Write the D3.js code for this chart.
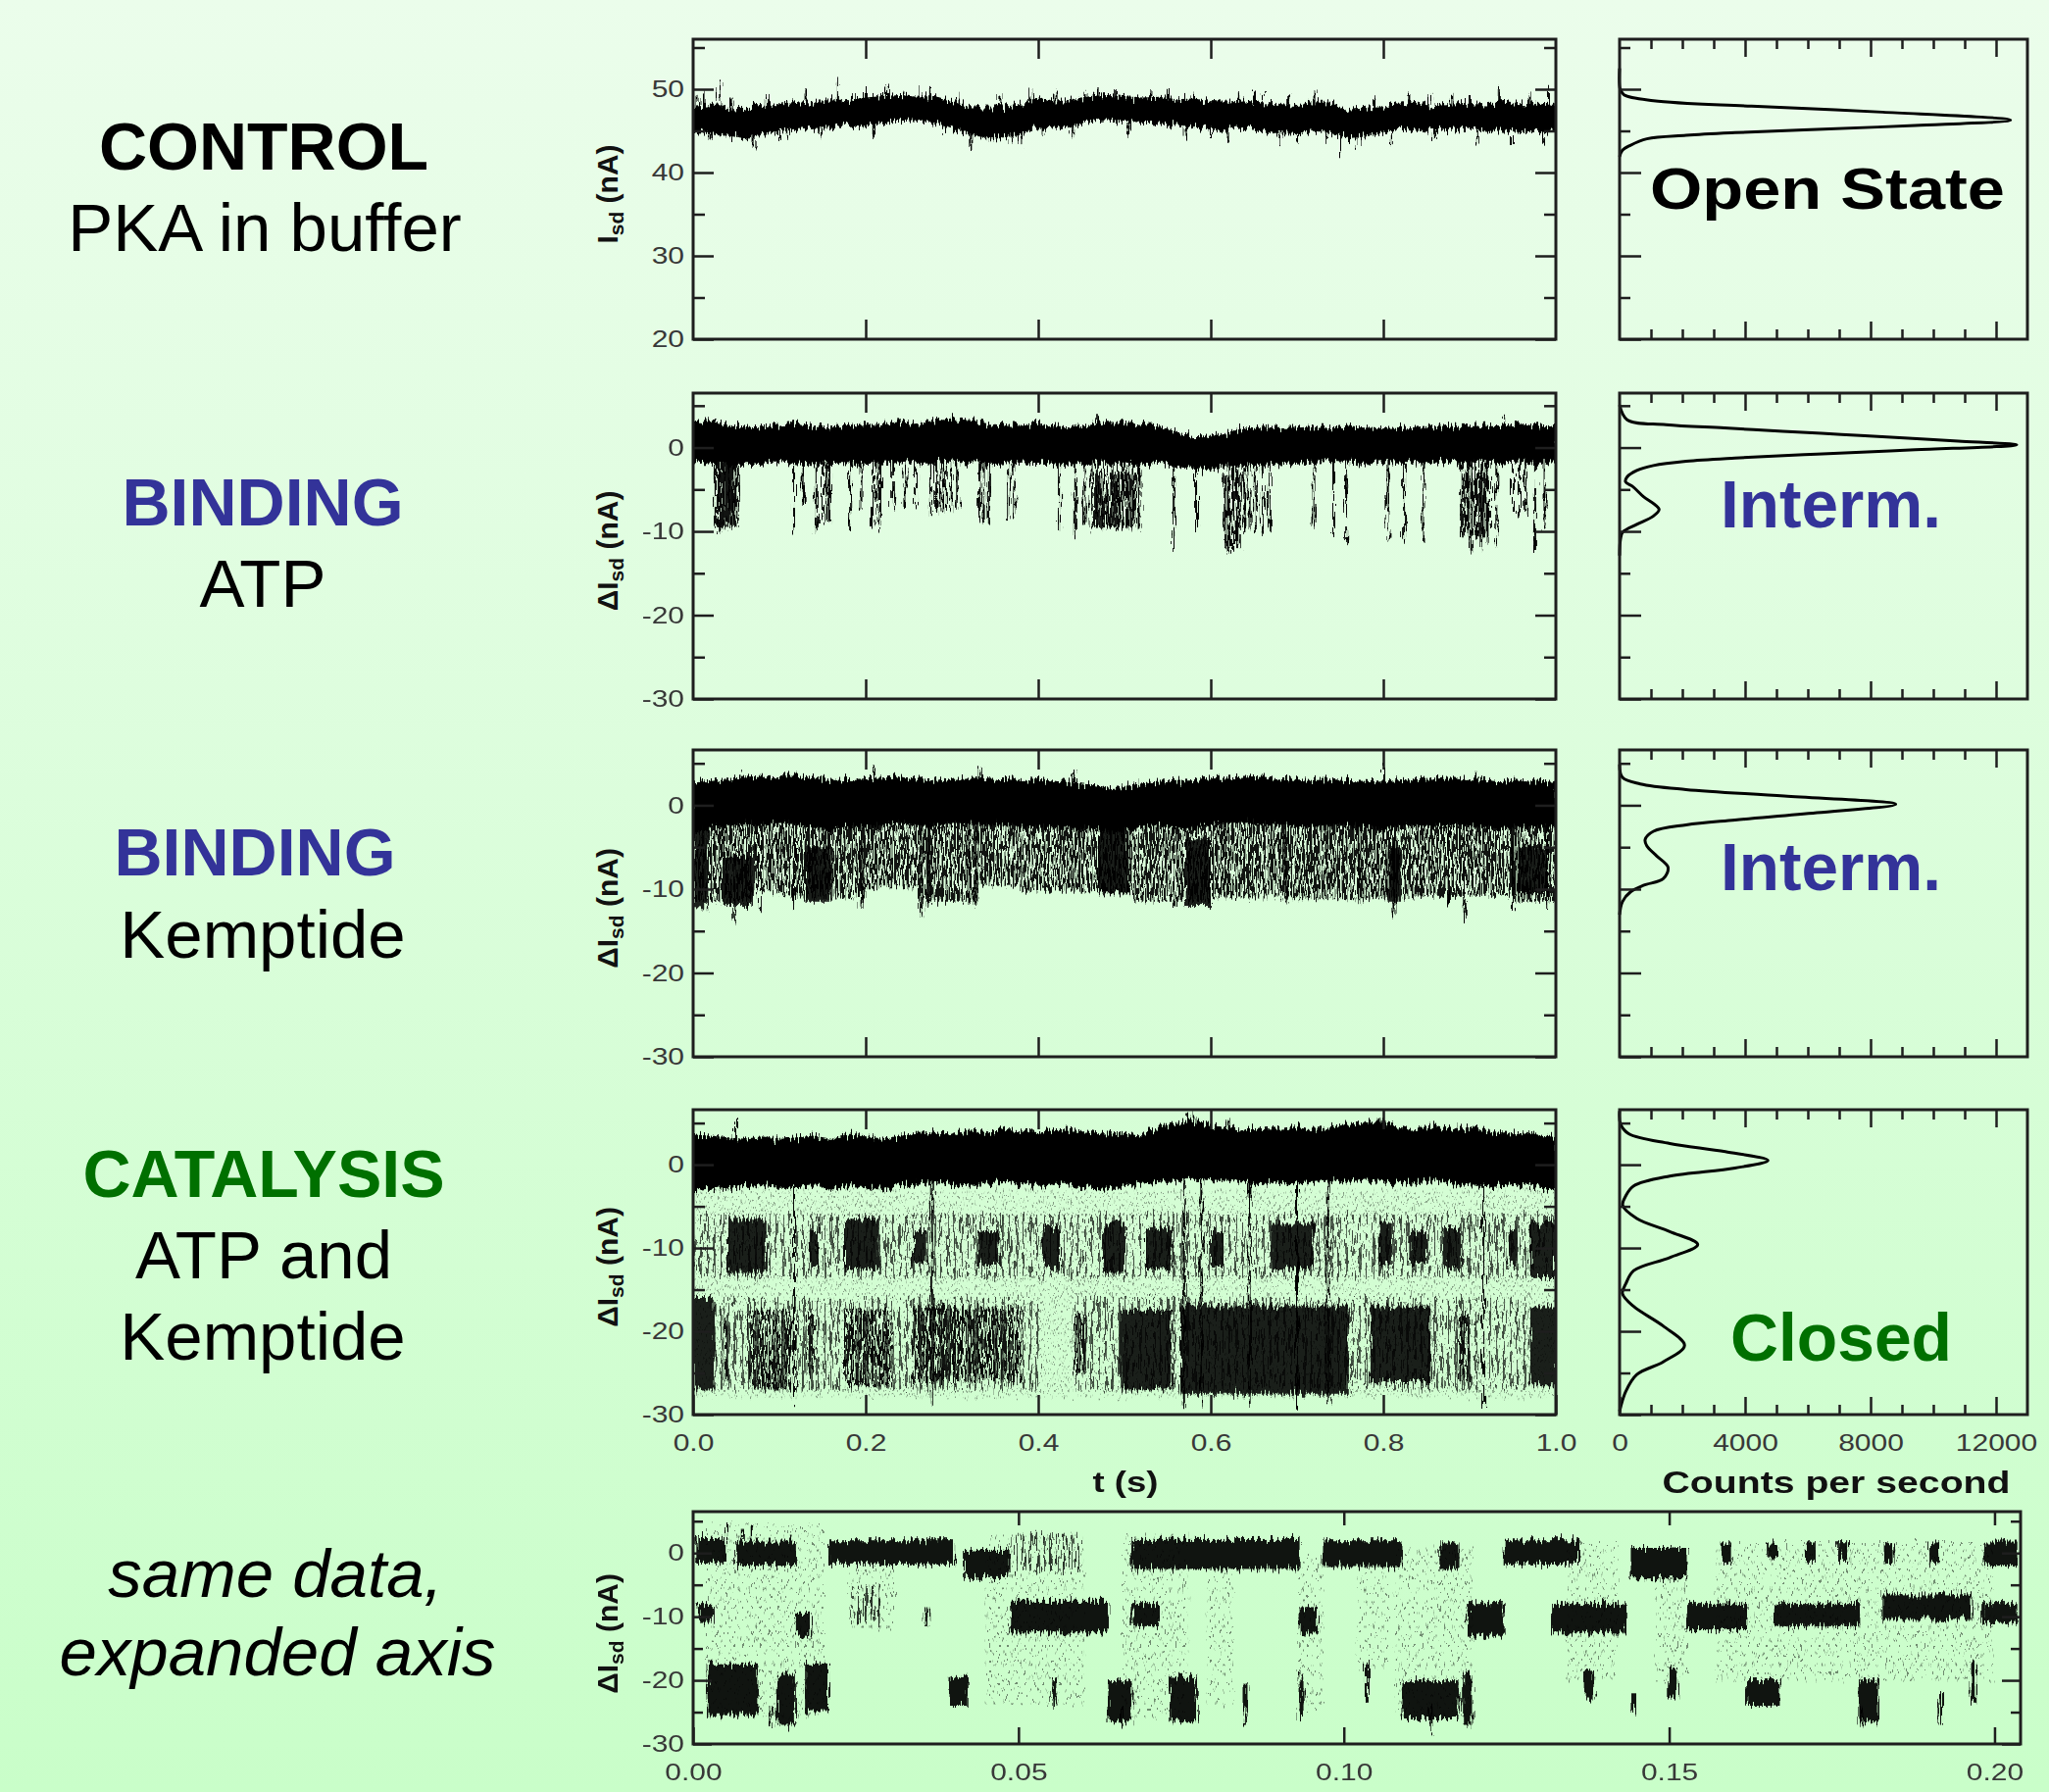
<!DOCTYPE html>
<html>
<head>
<meta charset="utf-8">
<script src="https://cdn.jsdelivr.net/npm/d3@7"></script>
<style>
  body { margin: 0; background: #e0fde0; }
  svg text { font-family: "Liberation Sans", Arial, Helvetica, sans-serif; }
</style>
</head>
<body>
<svg id="fig" width="2090" height="1828"></svg>
<script>

// ---------- DATA ----------

// envelope sampling grid, seconds
var gridT = [0,0.02,0.04,0.06,0.08,0.1,0.12,0.14,0.16,0.18,0.2,0.22,0.24,0.26,0.28,0.3,0.32,0.34,0.36,0.38,0.4,0.42,0.44,0.46,0.48,0.5,0.52,0.54,0.56,0.58,0.6,0.62,0.64,0.66,0.68,0.7,0.72,0.74,0.76,0.78,0.8,0.82,0.84,0.86,0.88,0.9,0.92,0.94,0.96,0.98,1]

// CONTROL: Isd band (nA)
var ctrlHi = [47.8,48.0,47.6,47.7,48.0,48.3,48.5,48.3,48.7,48.6,48.9,49.1,49.2,49.0,49.1,48.5,47.9,47.7,47.8,48.1,48.9,48.4,48.7,49.1,49.2,49.1,48.9,49.0,48.7,48.8,48.5,48.4,48.6,48.2,48.3,48.0,48.5,48.3,47.5,47.6,47.8,48.2,48.3,48.0,48.2,48.3,48.1,48.4,48.1,48.3,48.0]
var ctrlLo = [44.9,44.8,44.5,44.2,44.6,45.2,45.3,45.4,45.5,45.8,45.7,46.1,46.3,46.4,45.9,45.3,44.6,44.3,44.3,44.6,45.5,45.3,45.7,46.2,46.4,46.1,46.0,45.9,45.8,45.6,45.3,45.2,45.4,45.0,44.8,44.7,45.1,44.8,44.2,44.4,44.9,45.3,45.2,45.0,45.2,45.3,45.1,45.1,44.9,44.9,45.0]
var ctrlSpikes = [[0.004,49.2],[0.012,49.6],[0.02,43.6],[0.03,50.9],[0.045,49.0],[0.058,43.8],[0.07,43.0],[0.085,49.3],[0.1,44.0],[0.11,43.9],[0.13,49.6],[0.148,44.3],[0.168,51.0],[0.185,49.7],[0.2,50.0],[0.21,44.2],[0.226,50.3],[0.245,49.8],[0.262,50.0],[0.276,50.0],[0.29,44.6],[0.305,49.1],[0.322,42.8],[0.34,43.6],[0.355,49.4],[0.37,43.3],[0.38,43.4],[0.39,50.3],[0.405,44.4],[0.42,49.7],[0.44,44.2],[0.455,49.8],[0.47,50.0],[0.49,50.0],[0.505,44.6],[0.53,49.7],[0.55,49.8],[0.57,44.4],[0.58,49.6],[0.6,44.0],[0.62,43.9],[0.632,49.4],[0.65,49.6],[0.66,49.3],[0.68,43.4],[0.69,49.5],[0.7,43.6],[0.72,49.6],[0.735,43.8],[0.75,42.2],[0.77,43.2],[0.79,48.8],[0.81,43.4],[0.83,49.3],[0.855,49.2],[0.86,44.0],[0.88,49.2],[0.9,49.3],[0.91,43.7],[0.935,50.4],[0.95,43.3],[0.97,49.6],[0.985,43.1],[0.992,50.5]]

// BINDING ATP: dIsd
var atpHi = [2.8,3.2,2.6,2.5,2.4,2.6,2.8,2.5,2.4,2.6,2.9,2.8,3.0,2.7,3.1,3.3,3.2,2.8,2.6,2.6,2.8,2.5,2.4,2.6,3.0,2.9,2.7,2.5,1.8,1.4,1.3,1.7,2.3,2.4,2.2,2.3,2.4,2.3,2.5,2.4,2.3,2.2,2.4,2.3,2.5,2.4,2.6,2.5,2.8,2.5,2.6]
var atpLo = [-1.6,-1.8,-2.2,-2.0,-1.8,-1.6,-1.9,-2.0,-1.8,-1.9,-1.7,-1.8,-1.6,-1.9,-1.7,-1.5,-1.8,-2.0,-1.9,-1.8,-1.7,-2.0,-1.9,-1.8,-1.6,-1.9,-2.0,-1.8,-2.2,-2.4,-2.6,-2.3,-2.0,-1.9,-2.0,-1.8,-1.7,-1.6,-1.7,-1.8,-1.6,-1.7,-1.8,-1.7,-1.6,-1.8,-1.7,-1.9,-1.6,-1.7,-1.8]
var atpSpikes = [[0.026,-9.6],[0.031,-10.1],[0.036,-9.8],[0.041,-9.0],[0.046,-9.5],[0.052,-8.4],[0.117,-9.7],[0.128,-6.6],[0.143,-10.1],[0.150,-9.0],[0.155,-8.8],[0.158,-9.0],[0.182,-10.1],[0.195,-7.4],[0.208,-9.7],[0.213,-9.0],[0.217,-9.7],[0.232,-7.0],[0.246,-7.2],[0.258,-7.0],[0.276,-7.8],[0.282,-8.0],[0.288,-7.6],[0.293,-8.0],[0.298,-7.8],[0.306,-7.4],[0.332,-9.1],[0.337,-8.8],[0.343,-9.0],[0.365,-8.6],[0.372,-8.4],[0.424,-10.1],[0.443,-10.7],[0.454,-9.0],[0.462,-9.7],[0.468,-9.6],[0.474,-9.8],[0.480,-9.7],[0.486,-9.4],[0.492,-9.8],[0.498,-9.6],[0.504,-9.7],[0.51,-9.2],[0.516,-9.7],[0.557,-12.1],[0.583,-10.1],[0.62,-12.8],[0.625,-12.2],[0.631,-11.5],[0.639,-10.3],[0.645,-9.8],[0.652,-10.0],[0.66,-10.3],[0.668,-9.9],[0.72,-9.5],[0.742,-10.1],[0.757,-11.3],[0.805,-11.0],[0.824,-10.9],[0.846,-11.0],[0.89,-10.5],[0.898,-10.2],[0.902,-12.4],[0.908,-11.0],[0.914,-12.0],[0.92,-11.5],[0.931,-11.9],[0.95,-8.0],[0.958,-8.3],[0.965,-7.9],[0.976,-12.1],[0.987,-9.7],[0.028,3.6],[0.3,4.0],[0.468,3.9],[0.94,3.6]]
var atpStreaks = [[0.026,0.052,-9.5,-2],[0.462,0.52,-9.5,-3],[0.615,0.635,-12,-3],[0.89,0.925,-10.5,-3]]

// BINDING Kemptide: dIsd
var kemHi = [2.6,2.8,3.0,3.3,3.4,3.6,3.5,3.2,2.9,3.0,3.1,3.2,3.3,3.1,2.8,3.0,3.2,3.1,3.0,2.9,3.0,2.8,2.6,2.4,2.0,2.2,2.5,2.7,2.8,2.9,3.1,3.2,3.3,3.4,3.2,3.0,2.9,3.0,2.9,2.8,2.7,2.9,3.0,3.1,3.2,3.0,2.9,2.7,2.9,2.8,2.7]
var kemLo = [-3.5,-2.5,-2.4,-2.2,-2.3,-2.0,-2.2,-2.6,-2.8,-2.4,-2.6,-2.2,-2.0,-2.3,-2.5,-2.0,-2.1,-2.4,-2.2,-2.5,-2.6,-2.4,-2.7,-2.8,-3.0,-3.0,-2.6,-2.4,-2.7,-2.6,-2.2,-2.0,-2.0,-2.2,-2.3,-2.4,-2.5,-2.2,-2.3,-2.6,-2.8,-2.4,-2.3,-2.5,-2.2,-2.4,-2.6,-2.7,-2.5,-2.6,-2.4]
var kemStreaks = [[0,0.07,-11.5,-2],[0.07,0.11,-10.5,-2],[0.11,0.2,-11,-2],[0.2,0.26,-9.8,-2],[0.26,0.33,-11.5,-2],[0.33,0.38,-9.5,-2],[0.38,0.46,-10.2,-2],[0.46,0.51,-10.5,-2],[0.51,0.6,-11.5,-2],[0.6,0.69,-11,-2],[0.69,0.79,-11.2,-2],[0.79,0.85,-11,-2],[0.85,0.95,-10.8,-2],[0.95,1,-11.5,-2]]
var kemSolid = [[0,0.015,-12.5,-2.5],[0.035,0.07,-12,-6],[0.13,0.16,-11.5,-5],[0.47,0.505,-10.5,-3],[0.57,0.6,-12,-4],[0.805,0.82,-11.5,-5],[0.955,0.99,-10.5,-5]]
var kemSpikes = [[0.048,-13.8],[0.076,-12.6],[0.117,-12],[0.195,-12.2],[0.265,-13.2],[0.273,-12.2],[0.32,-12],[0.328,-12],[0.557,-12.2],[0.687,-11.7],[0.772,-11.9],[0.813,-13.2],[0.876,-11.7],[0.894,-14.2],[0.95,-12.6],[0.99,-12],[0.055,4.0],[0.21,4.8],[0.33,4.7],[0.335,4.5],[0.44,4.2],[0.8,4.5],[0.91,4.0]]

// CATALYSIS: dIsd
var catHi = [3.5,3.4,3.2,3.0,3.3,3.0,3.2,3.4,3.0,3.5,3.3,3.0,3.4,3.6,3.8,3.6,4.0,3.7,4.2,4.0,3.8,4.2,4.0,3.8,3.5,3.6,3.4,4.4,5.0,5.3,4.6,4.4,4.2,4.4,4.3,4.5,4.2,4.4,4.6,5.0,5.2,4.4,4.0,4.6,4.3,4.4,4.0,3.6,3.8,3.5,3.2]
var catLo = [-3.0,-2.8,-3.0,-2.6,-2.5,-2.7,-2.6,-2.4,-2.8,-2.5,-2.6,-2.8,-2.4,-2.2,-2.0,-2.3,-2.5,-2.2,-2.0,-2.4,-2.6,-2.2,-2.5,-2.7,-2.8,-2.4,-2.2,-2.0,-1.8,-1.6,-1.8,-2.0,-2.2,-2.4,-2.0,-2.2,-2.0,-1.8,-2.0,-1.7,-1.9,-2.2,-2.0,-1.8,-2.2,-2.4,-2.5,-2.6,-2.4,-2.8,-3.0]
var catSolid = [[0.04,0.085,-13,-6.5],[0.135,0.145,-12,-8],[0.175,0.215,-12.5,-6.5],[0.255,0.27,-12,-8],[0.33,0.355,-12,-8],[0.405,0.425,-12.5,-7.5],[0.475,0.5,-13,-7],[0.525,0.555,-12.5,-7.5],[0.6,0.615,-12,-8],[0.67,0.72,-12.5,-7],[0.795,0.81,-12,-7],[0.83,0.85,-12,-8],[0.87,0.89,-12.5,-7.5],[0.945,0.955,-12,-8],[0.97,1,-13.5,-7],
                [0,0.025,-27,-16],[0.495,0.555,-27,-17.5],[0.565,0.76,-27.5,-17],[0.785,0.855,-26,-17],[0.97,1,-26.5,-17]]
var catStreaks = [[0.035,0.04,-26,-18],[0.065,0.115,-27,-17.5],[0.13,0.14,-25,-18],[0.175,0.23,-26.5,-17.5],[0.255,0.38,-26,-17],[0.44,0.455,-25,-18],[0.885,0.9,-26,-18]]
var catThin = [[0,1,-13.5,-6],[0.025,0.4,-27,-16],[0.44,0.97,-27,-16]]
var catDots = [[0,1,-28,-3]]
var catSpikes = [[0.117,-29.2],[0.277,-28.8],[0.569,-29.2],[0.589,-29],[0.645,-29],[0.70,-29.5],[0.736,-28.5],[0.916,-29.4],[0.573,6.3],[0.58,6.0],[0.796,5.6],[0.62,5.5],[0.05,5.4]]

// same data, expanded axis (0 - 0.2 s)
var expSolid = [[0.0005,0.005,-1.5,2.5],[0.0065,0.0158,-2,1.8],[0.0208,0.0401,-1.8,2],[0.0416,0.0487,-3.8,0.5],[0.0674,0.0932,-2.5,2.2],[0.0968,0.109,-2.2,2],[0.1147,0.1176,-2.5,1.5],[0.1247,0.1362,-1.8,2],[0.1441,0.1527,-4,0.8],[0.1985,0.2035,-2,1.8],
                [0.158,0.1595,-1.5,1.5],[0.165,0.1665,-1,1.5],[0.171,0.1725,-1.5,1.5],[0.176,0.1775,-1.5,2],[0.183,0.1845,-1.5,1.5],[0.19,0.1915,-1.5,1.5],
                [0.0007,0.003,-11,-8],[0.0158,0.018,-13,-9.5],[0.0355,0.0362,-11.5,-8.5],[0.0487,0.0638,-12.5,-7.5],[0.0674,0.0717,-11.5,-8],[0.0932,0.096,-12.5,-8.5],[0.119,0.1247,-13,-8],[0.132,0.1434,-12.5,-8],[0.1527,0.162,-12,-8],[0.1663,0.1792,-11.5,-8],[0.1828,0.1964,-10.5,-6.5],[0.198,0.2035,-11,-8],
                [0.0022,0.01,-25.5,-17.5],[0.0129,0.0158,-27,-19],[0.0172,0.0208,-25,-17.5],[0.0394,0.0423,-24,-19.5],[0.0552,0.0558,-24,-20],[0.0638,0.0674,-26.5,-20],[0.0731,0.0774,-26.5,-19.5],[0.0846,0.0852,-26,-20.5],[0.0932,0.0938,-26,-19],[0.1032,0.1038,-23.5,-17.5],[0.109,0.1176,-26,-20],[0.1183,0.1197,-27,-19],[0.1369,0.1384,-23,-18.5],[0.1441,0.1448,-25,-22.5],[0.1498,0.1513,-23,-18],[0.162,0.167,-24,-20],[0.1792,0.1821,-26.5,-20],[0.1914,0.1921,-27,-22],[0.1964,0.1971,-23.5,-17]]
var expStreaks = [[0.0487,0.0595,-3,3],[0.0244,0.0287,-11,-5]]
var expDots = [[0.002,0.02,-26,4.5],[0.024,0.031,-12,-2],[0.045,0.06,-24,3],[0.066,0.076,-26,3],[0.079,0.083,-24,-2],[0.093,0.097,-25,0],[0.102,0.107,-18,-3],[0.108,0.12,-26,1],[0.134,0.142,-20,2],[0.148,0.153,-20,-3],[0.157,0.2,-20,2]]
var expSpikes = [[0.005,2,4.5],[0.0075,2,3.8],[0.009,2,4.4],[0.012,-24,-27.5],[0.1135,-24,-28.6],[0.066,-24,-27],[0.0848,-24,-27],[0.1795,-24,-27.5]]

// histograms: [current nA, counts per second]
var hist1 = [[52.5,0],[50.0,20],[49.33,140],[48.63,1080],[47.96,4210],[47.25,8380],[46.3,12460],[45.65,9420],[45.18,6290],[44.79,3680],[44.47,2120],[44.04,870],[43.26,340],[42.67,90],[41.9,0]]
var hist2 = [[5.07,0],[3.32,240],[2.73,1480],[2.34,3340],[1.95,5210],[1.57,7070],[1.17,8930],[0.78,10800],[0.32,12660],[-0.27,9420],[-0.78,6290],[-1.24,3680],[-1.63,2120],[-2.14,1080],[-2.73,550],[-3.5,240],[-4.1,190],[-4.68,430],[-5.85,760],[-6.82,1130],[-7.4,1260],[-8.2,1070],[-9.16,550],[-10.1,100],[-10.9,30],[-12.9,0]]
var hist3 = [[4.88,0],[3.32,90],[2.54,660],[1.87,2120],[1.09,5250],[0.12,8800],[-0.89,6290],[-1.75,3680],[-2.34,2120],[-3.11,1080],[-4.09,815],[-4.87,870],[-6.04,1180],[-7.4,1545],[-8.77,1390],[-9.55,760],[-10.33,350],[-11.5,90],[-13.05,0]]
var hist4 = [[6.45,0],[4.88,30],[3.71,290],[2.54,1600],[1.56,3370],[0.5,4730],[-0.4,3680],[-1.37,1600],[-2.55,450],[-3.72,200],[-4.9,100],[-6.46,550],[-8.03,1600],[-9.59,2490],[-11.15,1600],[-12.72,450],[-14.28,200],[-15.46,90],[-17.02,450],[-19.37,1390],[-21.7,2070],[-23.67,1390],[-25.2,550],[-27.2,200],[-29.6,0]]

// axis ticks / labels
var timeTicks = [0, 0.2, 0.4, 0.6, 0.8, 1.0]
var expTicks = [0, 0.05, 0.10, 0.15, 0.20]
var countMajor = [0, 4000, 8000, 12000]
var countMinor = [1000, 2000, 3000, 5000, 6000, 7000, 9000, 10000, 11000]
var ctrlMajor = [20, 30, 40, 50], ctrlMinor = [25, 35, 45, 55]
var dMajor = [-30, -20, -10, 0], dMinor = [-25, -15, -5, 5]
var yDomains = [[20, 56], [-30, 6.5], [-30, 6.6], [-30, 6.6]]

var condTitles = ["CONTROL", "BINDING", "BINDING", "CATALYSIS"]
var condLines = [["PKA in buffer"], ["ATP"], ["Kemptide"], ["ATP and", "Kemptide"]]
var stateNames = ["Open State", "Interm.", "Interm.", "Closed"]
var noteLines = ["same data,", "expanded axis"]

// ---------- LAYOUT ----------
var FONT = '"Liberation Sans", Arial, Helvetica, sans-serif'
var BLUE = "#333399", GREEN = "#007000"
var rowBox = [{top:40,bottom:346},{top:401,bottom:713},{top:765,bottom:1078},{top:1132,bottom:1443}]

var svg = d3.select("#fig")
var defs = svg.append("defs")

var grad = defs.append("linearGradient").attr("id","bg").attr("x1",0).attr("y1",0).attr("x2",0).attr("y2",1)
grad.append("stop").attr("offset","0%").attr("stop-color","#ebfdeb")
grad.append("stop").attr("offset","100%").attr("stop-color","#c9fec9")
svg.append("rect").attr("width",2090).attr("height",1828).attr("fill","url(#bg)")

// fills: streaks, thin streaks, scattered dots
var hatch = defs.append("pattern").attr("id","hatch").attr("patternUnits","userSpaceOnUse").attr("width",4).attr("height",6)
hatch.append("rect").attr("width",2.4).attr("height",6).attr("fill","#000")
var thin = defs.append("pattern").attr("id","thin").attr("patternUnits","userSpaceOnUse").attr("width",7).attr("height",6)
thin.append("rect").attr("width",1.8).attr("height",6).attr("fill","#000")
var dots = defs.append("pattern").attr("id","dots").attr("patternUnits","userSpaceOnUse").attr("width",7).attr("height",9)
dots.append("rect").attr("x",0.5).attr("y",0.5).attr("width",1.8).attr("height",1.8).attr("fill","#000")
dots.append("rect").attr("x",4).attr("y",5).attr("width",1.8).attr("height",1.8).attr("fill","#000")
var sparse = defs.append("pattern").attr("id","sparse").attr("patternUnits","userSpaceOnUse").attr("width",9).attr("height",13)
sparse.append("rect").attr("x",1).attr("y",1).attr("width",2).attr("height",2).attr("fill","#000")
sparse.append("rect").attr("x",5.5).attr("y",7.5).attr("width",2).attr("height",2).attr("fill","#000")

// rough edge look for the digitised traces: strong vertical, light horizontal jitter
var rough = defs.append("filter").attr("id","rough").attr("x","-2%").attr("y","-6%").attr("width","104%").attr("height","112%")
  .attr("color-interpolation-filters","sRGB")
rough.append("feTurbulence").attr("type","fractalNoise").attr("baseFrequency","0.5 0.05").attr("numOctaves",2).attr("seed",7).attr("result","n")
rough.append("feColorMatrix").attr("in","n").attr("type","matrix")
  .attr("values","0.6 0 0 0 0.2  0 1 0 0 0  0 0 0 0 0  0 0 0 0 1").attr("result","m")
rough.append("feDisplacementMap").attr("in","SourceGraphic").attr("in2","m").attr("scale",18)
  .attr("xChannelSelector","R").attr("yChannelSelector","G")

var tX = d3.scaleLinear().domain([0,1]).range([707,1587])
var hX = d3.scaleLinear().domain([0,13000]).range([1652,2068])
var eX = d3.scaleLinear().domain([0,0.204]).range([707,2061])

function widen(sel, k) {
  sel.each(function() {
    var w = this.getComputedTextLength()
    if (w > 0) d3.select(this).attr("textLength", w * k).attr("lengthAdjust", "spacingAndGlyphs")
  })
}

function styleAxis(a) {
  a.select(".domain").remove()
  a.attr("font-size", 24).attr("font-family", FONT)
  a.selectAll("line").attr("stroke", "#1e1e1e").attr("stroke-width", 2.5)
  a.selectAll("text").attr("fill", "#383838")
}

function ticksY(g, y, xPos, vals, len, side, labeled) {
  var ax = side == "left" ? d3.axisLeft(y) : d3.axisRight(y)
  var a = g.append("g").attr("transform", "translate(" + xPos + ",0)")
    .call(ax.tickValues(vals).tickSize(-len).tickPadding(9)
      .tickFormat(labeled ? function(d){ return String(d) } : function(){ return "" }))
  styleAxis(a)
  if (labeled) widen(a.selectAll("text"), 1.25)
}

function ticksX(g, x, yPos, vals, len, side, fmt, pad) {
  var ax = side == "bottom" ? d3.axisBottom(x) : d3.axisTop(x)
  var a = g.append("g").attr("transform", "translate(0," + yPos + ")")
    .call(ax.tickValues(vals).tickSize(-len).tickPadding(pad || 8)
      .tickFormat(fmt || function(){ return "" }))
  styleAxis(a)
  if (fmt) widen(a.selectAll("text"), 1.25)
}

function frame(g, x0, x1, y0, y1) {
  g.append("rect").attr("x", x0).attr("y", y0).attr("width", x1 - x0).attr("height", y1 - y0)
    .attr("fill", "none").attr("stroke", "#1e1e1e").attr("stroke-width", 3)
}

function midAt(t, hi, lo) {
  var i = Math.min(gridT.length - 2, Math.max(0, d3.bisectRight(gridT, t) - 1))
  var f = (t - gridT[i]) / (gridT[i+1] - gridT[i])
  return ((hi[i] + lo[i]) * (1 - f) + (hi[i+1] + lo[i+1]) * f) / 2
}

function blocks(g, x, y, list, fill, op) {
  g.selectAll(null).data(list).enter().append("rect")
    .attr("x", function(d){ return x(d[0]) })
    .attr("width", function(d){ return Math.max(1.5, x(d[1]) - x(d[0])) })
    .attr("y", function(d){ return y(d[3]) })
    .attr("height", function(d){ return y(d[2]) - y(d[3]) })
    .attr("fill", fill).attr("opacity", op)
}

function yLabel(cy, delta) {
  var t = svg.append("text").attr("transform", "translate(630," + cy + ") rotate(-90)")
    .attr("text-anchor", "middle").attr("font-weight", "bold").attr("font-size", 30).attr("fill", "#111")
  t.append("tspan").text(delta ? "\u0394I" : "I")
  t.append("tspan").attr("font-size", 21).attr("dy", 6).text("sd")
  t.append("tspan").attr("dy", -6).text(" (nA)")
}

// ---------- TIME TRACES + HISTOGRAMS ----------
var rowData = [
  {hi: ctrlHi, lo: ctrlLo, spikes: ctrlSpikes, solid: [], streaks: [], thin: [], dots: [], hist: hist1, major: ctrlMajor, minor: ctrlMinor},
  {hi: atpHi, lo: atpLo, spikes: atpSpikes, solid: [], streaks: atpStreaks, thin: [], dots: [], hist: hist2, major: dMajor, minor: dMinor},
  {hi: kemHi, lo: kemLo, spikes: kemSpikes, solid: kemSolid, streaks: kemStreaks, thin: [], dots: [], hist: hist3, major: dMajor, minor: dMinor},
  {hi: catHi, lo: catLo, spikes: catSpikes, solid: catSolid, streaks: catStreaks, thin: catThin, dots: catDots, hist: hist4, major: dMajor, minor: dMinor}
]

rowData.forEach(function(r, i) {
  var box = rowBox[i]
  var y = d3.scaleLinear().domain(yDomains[i]).range([box.bottom, box.top])
  var g = svg.append("g")

  defs.append("clipPath").attr("id", "clip" + i).append("rect")
    .attr("x", tX(0)).attr("y", box.top).attr("width", tX(1) - tX(0)).attr("height", box.bottom - box.top)
  var plot = g.append("g").attr("clip-path", "url(#clip" + i + ")")
    .append("g").attr("filter", "url(#rough)")

  blocks(plot, tX, y, r.dots, "url(#dots)", 0.38)
  blocks(plot, tX, y, r.thin, "url(#thin)", 0.7)
  blocks(plot, tX, y, r.streaks, "url(#hatch)", 0.92)
  blocks(plot, tX, y, r.solid, "#000", 0.88)

  plot.selectAll(null).data(r.spikes).enter().append("line")
    .attr("x1", function(d){ return tX(d[0]) }).attr("x2", function(d){ return tX(d[0]) })
    .attr("y1", function(d){ return y(midAt(d[0], r.hi, r.lo)) })
    .attr("y2", function(d){ return y(d[1]) })
    .attr("stroke", "#000").attr("stroke-width", 2)

  var band = d3.area()
    .x(function(d, k){ return tX(gridT[k]) })
    .y0(function(d, k){ return y(r.lo[k]) })
    .y1(function(d){ return y(d) })
  plot.append("path").datum(r.hi).attr("d", band)
    .attr("fill", "#000").attr("stroke", "#000").attr("stroke-width", 1.5)

  frame(g, tX(0), tX(1), box.top, box.bottom)
  ticksY(g, y, tX(0), r.major, 21, "left", true)
  ticksY(g, y, tX(0), r.minor, 12, "left", false)
  ticksY(g, y, tX(1), r.major, 21, "right", false)
  ticksY(g, y, tX(1), r.minor, 12, "right", false)
  var inner = timeTicks.slice(1, -1)
  ticksX(g, tX, box.top, inner, 20, "top")
  if (i == 3) {
    ticksX(g, tX, box.bottom, timeTicks, 20, "bottom", d3.format(".1f"), 20)
  } else {
    ticksX(g, tX, box.bottom, inner, 20, "bottom")
  }
  yLabel((box.top + box.bottom) / 2 + 5, i > 0)

  // histogram
  var hg = svg.append("g")
  var curve = d3.line()
    .x(function(d){ return hX(d[1]) })
    .y(function(d){ return y(d[0]) })
    .curve(d3.curveCatmullRom.alpha(0.5))
  hg.append("path").datum(r.hist).attr("d", curve)
    .attr("fill", "none").attr("stroke", "#000").attr("stroke-width", 3)
  frame(hg, hX(0), hX(13000), box.top, box.bottom)
  ticksY(hg, y, hX(0), r.major, 22, "left", false)
  ticksY(hg, y, hX(0), r.minor, 11, "left", false)
  ticksX(hg, hX, box.top, countMajor.slice(1), 18, "top")
  ticksX(hg, hX, box.top, countMinor, 10, "top")
  ticksX(hg, hX, box.bottom, countMinor, 10, "bottom")
  if (i == 3) {
    ticksX(hg, hX, box.bottom, countMajor, 18, "bottom", function(d){ return String(d) }, 20)
  } else {
    ticksX(hg, hX, box.bottom, countMajor.slice(1), 18, "bottom")
  }
})

// ---------- EXPANDED PANEL ----------
;(function() {
  var top = 1542, bottom = 1779
  var y = d3.scaleLinear().domain([-30, 6.5]).range([bottom, top])
  var g = svg.append("g")
  defs.append("clipPath").attr("id", "clipE").append("rect")
    .attr("x", eX(0)).attr("y", top).attr("width", eX(0.204) - eX(0)).attr("height", bottom - top)
  var plot = g.append("g").attr("clip-path", "url(#clipE)")
    .append("g").attr("filter", "url(#rough)")
  blocks(plot, eX, y, expDots, "url(#sparse)", 0.45)
  blocks(plot, eX, y, expStreaks, "url(#thin)", 0.8)
  blocks(plot, eX, y, expSolid, "#000", 0.92)
  plot.selectAll(null).data(expSpikes).enter().append("line")
    .attr("x1", function(d){ return eX(d[0]) }).attr("x2", function(d){ return eX(d[0]) })
    .attr("y1", function(d){ return y(d[1]) }).attr("y2", function(d){ return y(d[2]) })
    .attr("stroke", "#000").attr("stroke-width", 2)

  frame(g, eX(0), eX(0.204), top, bottom)
  ticksY(g, y, eX(0), dMajor, 19, "left", true)
  ticksY(g, y, eX(0), dMinor, 10, "left", false)
  ticksY(g, y, eX(0.204), dMajor, 19, "right", false)
  ticksY(g, y, eX(0.204), dMinor, 10, "right", false)
  ticksX(g, eX, top, expTicks.slice(1), 14, "top")
  ticksX(g, eX, bottom, expTicks, 17, "bottom", d3.format(".2f"), 20)
  yLabel((top + bottom) / 2 + 6, true)
})()

// axis titles
svg.append("text").attr("x", 1148).attr("y", 1522).attr("text-anchor", "middle")
  .attr("font-weight", "bold").attr("font-size", 30).attr("fill", "#111")
  .attr("textLength", 67).attr("lengthAdjust", "spacingAndGlyphs").text("t (s)")
svg.append("text").attr("x", 1873).attr("y", 1523).attr("text-anchor", "middle")
  .attr("font-weight", "bold").attr("font-size", 32).attr("fill", "#111")
  .attr("textLength", 355).attr("lengthAdjust", "spacingAndGlyphs").text("Counts per second")

// state labels inside histograms
var stateSpec = [
  {x: 1683, y: 213, size: 60, len: 362, color: "#000"},
  {x: 1755, y: 538, size: 68, len: 225, color: BLUE},
  {x: 1755, y: 908, size: 68, len: 225, color: BLUE},
  {x: 1765, y: 1388, size: 68, len: 226, color: GREEN}
]
stateNames.forEach(function(s, i) {
  var p = stateSpec[i]
  svg.append("text").attr("x", p.x).attr("y", p.y).attr("font-weight", "bold")
    .attr("font-size", p.size).attr("fill", p.color)
    .attr("textLength", p.len).attr("lengthAdjust", "spacingAndGlyphs").text(s)
})

// left-hand condition labels
var titleSpec = [{x: 269, y: 173, color: "#000"}, {x: 268, y: 536, color: BLUE}, {x: 260, y: 893, color: BLUE}, {x: 269, y: 1221, color: GREEN}]
var lineSpec = [[{x: 270, y: 256}], [{x: 268, y: 619}], [{x: 268, y: 977}], [{x: 269, y: 1304}, {x: 268, y: 1387}]]
condTitles.forEach(function(s, i) {
  svg.append("text").attr("x", titleSpec[i].x).attr("y", titleSpec[i].y).attr("text-anchor", "middle")
    .attr("font-weight", "bold").attr("font-size", 68).attr("fill", titleSpec[i].color).text(s)
  condLines[i].forEach(function(l, k) {
    svg.append("text").attr("x", lineSpec[i][k].x).attr("y", lineSpec[i][k].y).attr("text-anchor", "middle")
      .attr("font-size", 69).attr("fill", "#000").text(l)
  })
})
var noteSpec = [{x: 281, y: 1629}, {x: 283, y: 1709}]
noteLines.forEach(function(l, k) {
  svg.append("text").attr("x", noteSpec[k].x).attr("y", noteSpec[k].y).attr("text-anchor", "middle")
    .attr("font-size", 69).attr("font-style", "italic").attr("fill", "#000").text(l)
})

</script>
</body>
</html>
